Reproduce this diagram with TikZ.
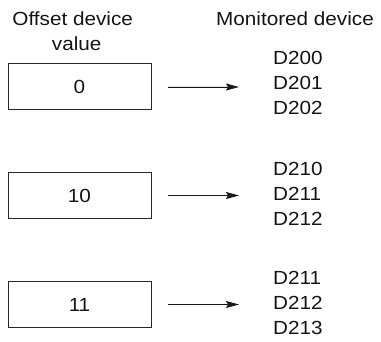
\documentclass[tikz,border=0pt]{standalone}
\usepackage{fontspec}
\setmainfont{Liberation Sans}[FakeStretch=1.09]
\usetikzlibrary{arrows.meta}
\begin{document}
\begin{tikzpicture}[x=1pt,y=-1pt,
  txt/.style={font=\fontsize{19}{25}\selectfont, inner sep=0pt, anchor=base, text=black!92},
  dtxt/.style={txt, anchor=base west},
  valbox/.style={draw=black!85, line width=1pt, minimum width=143pt, minimum height=46pt,
    inner sep=0pt, outer sep=0pt, font=\fontsize{19}{25}\selectfont, text=black!92},
  arr/.style={-{Stealth[length=13pt,width=7pt,inset=2pt]}, line width=0.9pt, draw=black!90, fill=black!90}]
\useasboundingbox (0,0) rectangle (381,342);
% headers
\node[txt] (h1) at (72.7,26) {Offset device};
\node[txt] (h2) at (76.7,50.5) {value};
\node[txt] (h3) at (295,26) {Monitored device};
% boxes
\node[valbox] (b1) at (79.5,87) {0};
\node[valbox] (b2) at (79.5,195.5) {10};
\node[valbox] (b3) at (79.5,304.5) {11};
% device lists
\node[dtxt] (d200) at (273,64.5) {D200};
\node[dtxt] (d201) at (273,89.5) {D201};
\node[dtxt] (d202) at (273,114.5) {D202};
\node[dtxt] (d210) at (273,176) {D210};
\node[dtxt] (d211) at (273,201) {D211};
\node[dtxt] (d212) at (273,226) {D212};
\node[dtxt] (e211) at (273,285) {D211};
\node[dtxt] (e212) at (273,310) {D212};
\node[dtxt] (e213) at (273,335) {D213};
% arrows
\draw[arr] ([xshift=17pt]b1.east) -- ([xshift=-34pt]b1.east -| d201.west);
\draw[arr] ([xshift=17pt]b2.east) -- ([xshift=-34pt]b2.east -| d211.west);
\draw[arr] ([xshift=17pt]b3.east) -- ([xshift=-34pt]b3.east -| e212.west);
\end{tikzpicture}
\end{document}
